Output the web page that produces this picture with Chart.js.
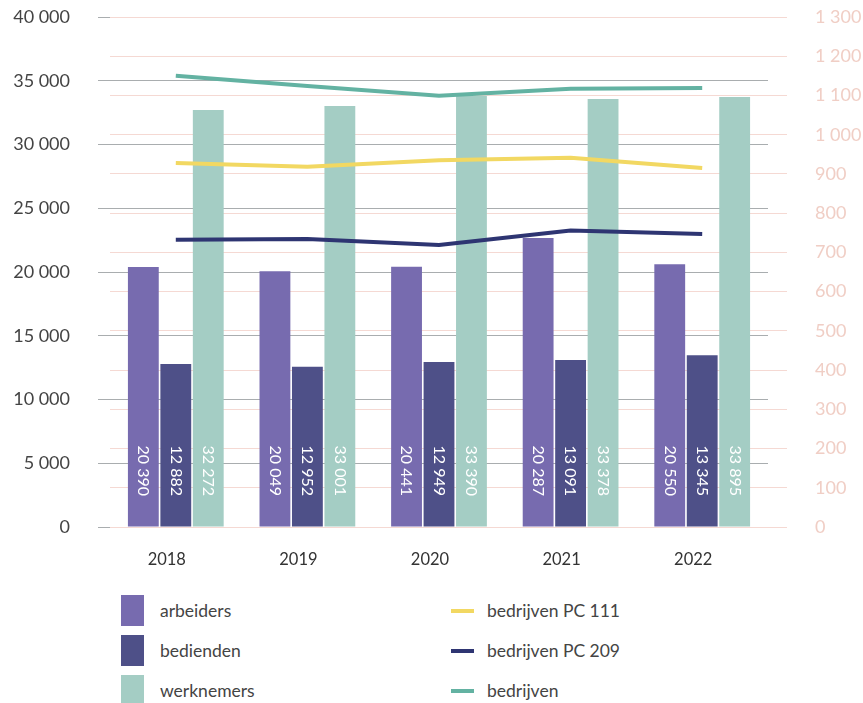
<!DOCTYPE html>
<html>
<head>
<meta charset="utf-8">
<script src="https://cdn.jsdelivr.net/npm/chart.js@4/dist/chart.umd.min.js"></script>
<style>
  body { margin: 0; background: #fff; font-family: Lato, sans-serif; }
  #wrap { position: relative; width: 863px; height: 570px; }
  #legend { position: relative; width: 863px; height: 133px; color: #444; font-size: 17.5px; }
  .item { position: absolute; display: flex; align-items: center; height: 31px; }
  .box { width: 23px; height: 31px; margin-right: 16px; }
  .line { width: 23px; height: 4px; margin-right: 13px; }
</style>
</head>
<body>
<div id="wrap"><canvas id="chart" width="863" height="570"></canvas></div>
<div id="legend"></div>
<script>
const years = ["2018", "2019", "2020", "2021", "2022"];

// bar heights as drawn
const arbeiders = [20390, 20060, 20420, 22670, 20600];
const bedienden = [12790, 12560, 12940, 13100, 13480];
const werknemers = [32700, 33010, 33800, 33570, 33720];

// printed labels inside the bars
const arbeidersText = ["20 390", "20 049", "20 441", "20 287", "20 550"];
const bediendenText = ["12 882", "12 952", "12 949", "13 091", "13 345"];
const werknemersText = ["32 272", "33 001", "33 390", "33 378", "33 895"];

// right axis series
const bedrijvenPC111 = [928, 918, 935, 941, 915];
const bedrijvenPC209 = [732, 734, 719, 756, 747];
const bedrijven = [1150, 1124, 1099, 1117, 1119];

const fmt = v => String(v).replace(/\B(?=(\d{3})+(?!\d))/g, " ");

const barText = {
  arbeiders: arbeidersText,
  bedienden: bediendenText,
  werknemers: werknemersText
};

const barLabels = {
  id: "barLabels",
  afterDatasetsDraw(chart) {
    const ctx = chart.ctx;
    const base = chart.scales.y.bottom - 31;
    ctx.save();
    ctx.fillStyle = "#fff";
    ctx.font = "16px Lato";
    ctx.textAlign = "right";
    ctx.textBaseline = "middle";
    chart.data.datasets.forEach((ds, i) => {
      if (ds.type !== "bar") return;
      chart.getDatasetMeta(i).data.forEach((bar, j) => {
        ctx.save();
        ctx.translate(bar.x, base);
        ctx.rotate(Math.PI / 2);
        ctx.fillText(barText[ds.label][j], 0, 0);
        ctx.restore();
      });
    });
    ctx.restore();
  }
};

const ctx = document.getElementById("chart").getContext("2d");

const chart = new Chart(ctx, {
  data: {
    labels: years,
    datasets: [
      { type: "line", label: "bedrijven PC 111", data: bedrijvenPC111, yAxisID: "y1",
        borderColor: "#F2D862", borderWidth: 4, pointRadius: 0, tension: 0, order: 1 },
      { type: "line", label: "bedrijven PC 209", data: bedrijvenPC209, yAxisID: "y1",
        borderColor: "#2E3572", borderWidth: 4, pointRadius: 0, tension: 0, order: 1 },
      { type: "line", label: "bedrijven", data: bedrijven, yAxisID: "y1",
        borderColor: "#63B2A2", borderWidth: 4, pointRadius: 0, tension: 0, order: 1 },
      { type: "bar", label: "arbeiders", data: arbeiders, backgroundColor: "#776BAF",
        categoryPercentage: 0.74, barPercentage: 0.95, order: 2 },
      { type: "bar", label: "bedienden", data: bedienden, backgroundColor: "#4E5088",
        categoryPercentage: 0.74, barPercentage: 0.95, order: 2 },
      { type: "bar", label: "werknemers", data: werknemers, backgroundColor: "#A4CDC4",
        categoryPercentage: 0.74, barPercentage: 0.95, order: 2 }
    ]
  },
  options: {
    responsive: false,
    animation: false,
    layout: { padding: { top: 17 } },
    plugins: {
      legend: { display: false },
      tooltip: { enabled: false }
    },
    scales: {
      x: {
        grid: { display: false },
        border: { display: false },
        ticks: { color: "#333", font: { family: "Lato", size: 16.5 }, padding: 15, labelOffset: -9 },
        afterFit: s => { s.height = 43; }
      },
      y: {
        position: "left",
        min: 0,
        max: 40000,
        ticks: { stepSize: 5000, color: "#444", font: { family: "Lato", size: 18 }, padding: 28,
          callback: v => fmt(v) },
        grid: { color: "#A9ADAF", lineWidth: 1, tickLength: 12, tickColor: "#A9ADAF" },
        border: { display: false },
        afterFit: s => { s.width = 110; s.paddingTop = 0; s.paddingBottom = 0; }
      },
      y1: {
        position: "right",
        min: 0,
        max: 1300,
        ticks: { stepSize: 100, color: "#F0CEC5", font: { family: "Lato", size: 18 }, padding: 28,
          callback: v => fmt(v) },
        grid: { color: "#F5D9D3", lineWidth: 1, tickLength: 19, tickColor: "#F5D9D3" },
        border: { display: false },
        afterFit: s => { s.width = 95; s.paddingTop = 0; s.paddingBottom = 0; }
      }
    }
  },
  plugins: [barLabels]
});

// html legend from the datasets
const legend = document.getElementById("legend");
const barSets = chart.data.datasets.filter(d => d.type === "bar");
const lineSets = chart.data.datasets.filter(d => d.type === "line");
barSets.forEach((d, i) => {
  const el = document.createElement("div");
  el.className = "item";
  el.style.left = "121px";
  el.style.top = (25 + i * 40) + "px";
  el.innerHTML = `<span class="box" style="background:${d.backgroundColor}"></span>${d.label}`;
  legend.appendChild(el);
});
lineSets.forEach((d, i) => {
  const el = document.createElement("div");
  el.className = "item";
  el.style.left = "451px";
  el.style.top = (25 + i * 40) + "px";
  el.innerHTML = `<span class="line" style="background:${d.borderColor}"></span>${d.label}`;
  legend.appendChild(el);
});
</script>
</body>
</html>
